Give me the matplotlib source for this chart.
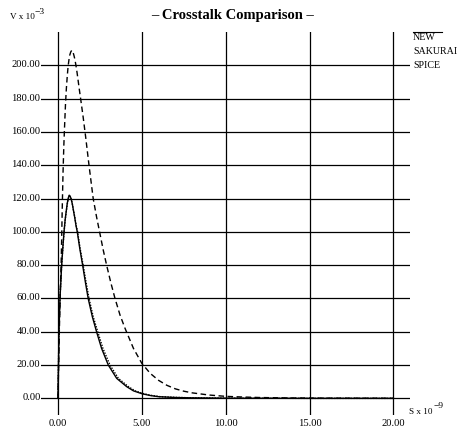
import matplotlib
matplotlib.use('Agg')
import matplotlib.pyplot as plt
from matplotlib.lines import Line2D
from matplotlib.transforms import ScaledTranslation

plt.rcParams['font.family'] = ['Liberation Serif', 'DejaVu Serif']

# 数据 (时间 ns, 电压 mV)
new_t = [0, 0.03, 0.06, 0.12, 0.22, 0.3, 0.36, 0.43, 0.5, 0.56, 0.62, 0.67, 0.72,
         0.78, 0.85, 0.92, 1.0, 1.07, 1.15, 1.3, 1.47, 1.63, 1.8, 2.05, 2.3, 2.6,
         3.0, 3.5, 4.1, 4.5, 5.0, 5.5, 6.0, 7.0, 8.0, 10.0, 12.0, 15.0, 20.0]
new_v = [0, 20, 40, 60, 80, 92, 100, 107.5, 113, 117.5, 120.5, 122, 121.5,
         120, 117, 113, 108.5, 104, 100, 90, 80, 70, 60, 49, 40, 30,
         20, 12, 7, 4.5, 2.8, 1.7, 1.0, 0.5, 0.3, 0.1, 0.05, 0, 0]

sakurai_t = [0, 0.03, 0.06, 0.12, 0.22, 0.3, 0.36, 0.43, 0.5, 0.56, 0.62, 0.68, 0.73,
             0.79, 0.86, 0.93, 1.01, 1.08, 1.17, 1.32, 1.5, 1.67, 1.85, 2.1, 2.37, 2.68,
             3.1, 3.6, 4.2, 4.6, 5.1, 5.6, 6.1, 7.0, 8.0, 10.0, 12.0, 15.0, 20.0]
sakurai_v = [0, 20, 40, 60, 80, 91.5, 99.5, 107, 112.5, 117, 120, 121.5, 121,
             119.5, 116.5, 112.5, 108.5, 104, 100, 90, 80, 70, 60, 49, 40, 30,
             20, 12, 7, 4.5, 2.8, 1.7, 1.0, 0.6, 0.3, 0.1, 0.05, 0, 0]

spice_t = [0, 0.04, 0.08, 0.14, 0.2, 0.25, 0.3, 0.35, 0.4, 0.45, 0.5, 0.55, 0.6,
           0.65, 0.7, 0.76, 0.82, 0.88, 0.95, 1.01, 1.07, 1.14, 1.2, 1.28, 1.35,
           1.5, 1.65, 1.85, 2.1, 2.3, 2.5, 2.7, 2.9, 3.15, 3.4, 3.7, 4.0, 4.5,
           5.0, 5.5, 6.0, 6.5, 7.0, 7.5, 8.0, 9.0, 10.0, 11.0, 12.0, 14.0, 16.0,
           18.0, 20.0]
spice_v = [0, 20, 40, 65, 85, 112, 135, 152, 165, 177, 186, 193, 199,
           203, 206, 208, 209, 208.5, 206, 203.5, 200, 195.5, 191, 185, 180,
           169, 157, 140, 120, 109, 99, 89, 80, 69.5, 60, 50, 42, 30,
           21, 15, 10.8, 7.8, 5.7, 4.3, 3.3, 2.0, 1.2, 0.8, 0.5, 0.2, 0.1,
           0.05, 0]

x_ticks = [0, 5, 10, 15, 20]
y_ticks = [0, 20, 40, 60, 80, 100, 120, 140, 160, 180, 200]
legend_names = ['NEW', 'SAKURAI', 'SPICE']

W, H = 457, 430
fig = plt.figure(figsize=(W / 100, H / 100), dpi=100)
ax = fig.add_axes([41.2 / W, 15 / H, 369 / W, 383 / H])

ax.plot(spice_t, spice_v, color='black', lw=1.0, linestyle=(0, (4, 2.5)))
ax.plot(sakurai_t, sakurai_v, color='black', lw=1.0, linestyle=(0, (1, 1)))
ax.plot(new_t, new_v, color='black', lw=1.0)

ax.set_xlim(-1, 21)
ax.set_ylim(-10, 220)
ax.set_xticks(x_ticks)
ax.set_xticklabels(['%.2f' % v for v in x_ticks])
ax.set_yticks(y_ticks)
ax.set_yticklabels(['%.2f' % v for v in y_ticks])
ax.tick_params(length=0, labelsize=7.6, pad=3)
ax.tick_params(axis='y', pad=0.5)
for lab in ax.get_yticklabels():
    lab.set_transform(lab.get_transform() + ScaledTranslation(0, 1.5 / 100, fig.dpi_scale_trans))
ax.grid(True, color='black', lw=0.9)
ax.set_axisbelow(True)
for s in ax.spines.values():
    s.set_visible(False)

# 标题和单位
fig.text(233 / W, 1 - 15 / H, '– Crosstalk Comparison –', ha='center', va='center',
         fontsize=10.5, fontweight='bold')
fig.text(10 / W, 1 - 17 / H, 'V x 10', ha='left', va='center', fontsize=6.6)
fig.text(34.5 / W, 1 - 12 / H, '−3', ha='left', va='center', fontsize=6.8)
fig.text(409 / W, 1 - 412 / H, 'S x 10', ha='left', va='center', fontsize=6.6)
fig.text(434 / W, 1 - 406 / H, '−9', ha='left', va='center', fontsize=6.8)

# 图例
for i, name in enumerate(legend_names):
    yc = 37 + 14 * i
    fig.text(413 / W, 1 - yc / H, name, ha='left', va='center', fontsize=7.2)
fig.add_artist(Line2D([413 / W, 442 / W], [1 - 32.3 / H, 1 - 32.3 / H], color='black', lw=0.8))

fig.savefig('out.png', dpi=100)
